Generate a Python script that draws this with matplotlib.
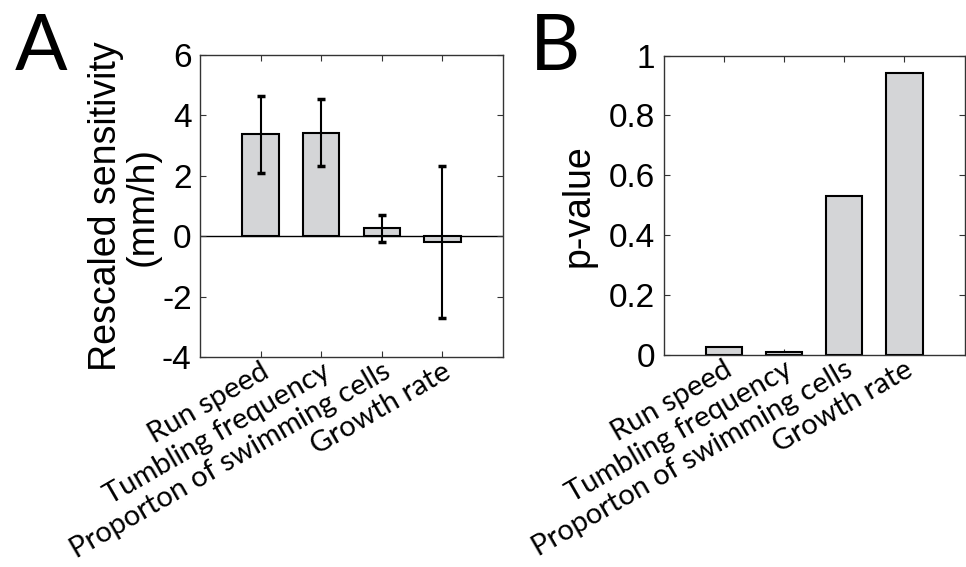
"""
Rescaled sensitivity and p-value bar charts
"""
import matplotlib
matplotlib.use("Agg")
import matplotlib.pyplot as plt

categories = ["Run speed", "Tumbling frequency", "Proporton of swimming cells", "Growth rate"]
sensitivity = [3.37, 3.43, 0.27, -0.19]
sensitivity_err = [1.27, 1.10, 0.45, 2.52]
p_values = [0.025, 0.009, 0.531, 0.943]

NUM_FONT = "Liberation Sans"
LABEL_FONT = "Lato"
BAR_COLOR = "#d4d5d7"
SPINE_COLOR = "#333333"

plt.rcParams["axes.unicode_minus"] = False


def style_axes(ax):
    for s in ax.spines.values():
        s.set_color(SPINE_COLOR)
        s.set_linewidth(1.0)
    ax.tick_params(direction="in", length=4, width=0.8, color=SPINE_COLOR,
                   top=True, right=True, labelsize=24, pad=6)
    for lab in ax.get_yticklabels():
        lab.set_fontfamily(NUM_FONT)
    ax.set_xticks(range(1, len(categories) + 1))
    ax.set_xticklabels(categories, rotation=30, ha="right", rotation_mode="anchor",
                       fontfamily=LABEL_FONT, fontsize=21)
    ax.tick_params(axis="x", pad=1)
    ax.set_xlim(0, 5)


def main():
    fig = plt.figure(figsize=(9.66, 5.67), dpi=100)
    x = list(range(1, len(categories) + 1))

    # panel A
    ax1 = fig.add_axes([0.207, 0.370, 0.3137, 0.533])
    ax1.bar(x, sensitivity, width=0.6, color=BAR_COLOR, edgecolor="black", linewidth=1.5, zorder=2)
    ax1.errorbar(x, sensitivity, yerr=sensitivity_err, fmt="none", ecolor="black",
                 elinewidth=1.5, capsize=3, capthick=2.5, zorder=3)
    ax1.axhline(0, color="black", linewidth=1.0, zorder=1)
    ax1.set_ylim(-4, 6)
    ax1.set_yticks([-4, -2, 0, 2, 4, 6])
    style_axes(ax1)
    ax1.set_ylabel("Rescaled sensitivity\n(mm/h)", fontsize=27, fontfamily=NUM_FONT,
                   labelpad=1, linespacing=1.0)

    # panel B
    ax2 = fig.add_axes([0.687, 0.374, 0.3116, 0.528])
    ax2.bar(x, p_values, width=0.6, color=BAR_COLOR, edgecolor="black", linewidth=1.5, zorder=2)
    ax2.set_ylim(0, 1)
    ax2.set_yticks([0, 0.2, 0.4, 0.6, 0.8, 1])
    ax2.set_yticklabels(["0", "0.2", "0.4", "0.6", "0.8", "1"])
    style_axes(ax2)
    ax2.set_ylabel("p-value", fontsize=27, fontfamily=NUM_FONT, labelpad=9)

    fig.text(15 / 966, 1 - 70 / 567, "A", fontsize=56, fontfamily=LABEL_FONT, va="baseline")
    fig.text(530 / 966, 1 - 70 / 567, "B", fontsize=56, fontfamily=LABEL_FONT, va="baseline")

    fig.savefig("out.png", dpi=100)


if __name__ == '__main__':
    main()
